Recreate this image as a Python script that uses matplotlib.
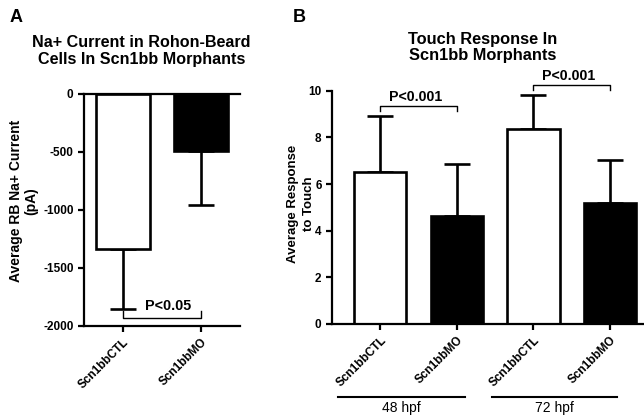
import matplotlib
matplotlib.use("Agg")
import matplotlib.pyplot as plt

plt.rcParams['font.family'] = ['Liberation Sans', 'DejaVu Sans']
plt.rcParams['axes.unicode_minus'] = False

# Panel A data
a_categories = ["Scn1bbCTL", "Scn1bbMO"]
a_means = [-1336, -490]
a_err = [515, 465]
a_colors = ["white", "black"]
a_yticks = [0, -500, -1000, -1500, -2000]

# Panel B data
b_categories = ["Scn1bbCTL", "Scn1bbMO", "Scn1bbCTL", "Scn1bbMO"]
b_means = [6.53, 4.64, 8.36, 5.20]
b_err = [2.40, 2.23, 1.45, 1.81]
b_colors = ["white", "black", "white", "black"]
b_yticks = [0, 2, 4, 6, 8, 10]
b_groups = ["48 hpf", "72 hpf"]

W, H = 644, 416
fig = plt.figure(figsize=(W/100, H/100), dpi=100)

LW = 1.6
bw = 0.68

def style(ax, fs):
    for s in ax.spines.values():
        s.set_linewidth(LW)
    ax.tick_params(width=LW, length=4, labelsize=fs)
    for lab in ax.get_yticklabels():
        lab.set_fontweight('bold')

# ---------- Panel A ----------
axA = fig.add_axes([84/W, 1-326/H, 156/W, (326-94)/H])
xa = list(range(len(a_categories)))
axA.errorbar(xa, a_means, yerr=[a_err, [0]*len(a_err)], fmt='none', ecolor='black',
             elinewidth=LW+0.3, capsize=9.7, capthick=LW+0.3, zorder=1)
axA.bar(xa, a_means, width=bw, color=a_colors, edgecolor='black', linewidth=LW+0.3, zorder=2)
axA.set_xlim(-0.5, 1.5)
axA.set_ylim(-2000, 0)
axA.set_yticks(a_yticks)
axA.set_xticks(xa)
axA.set_xticklabels(a_categories, rotation=45, ha='right', rotation_mode='anchor',
                    fontweight='bold', fontsize=8.5)
axA.spines['right'].set_visible(False)
style(axA, 8.5)
fig.text(23.5/W, 1-201/H, "Average RB Na+ Current\n(pA)", rotation=90, ha='center',
         va='center', multialignment='center', fontsize=10, fontweight='bold', linespacing=1.08)
fig.text(141.5/W, 1-51/H, "Na+ Current in Rohon-Beard\nCells In Scn1bb Morphants",
         ha='center', va='center', multialignment='center', fontsize=11.6,
         fontweight='bold', linespacing=1.12)
# bracket
yb, yt = -1930, -1870
axA.plot([0, 0, 1, 1], [yt, yb, yb, yt], color='black', lw=1.0, clip_on=False, zorder=3)
axA.text(0.58, -1885, "P<0.05", ha='center', va='bottom', fontsize=10.4, fontweight='bold')
fig.text(10/W, 1-18/H, "A", fontsize=13, fontweight='bold', va='center', ha='left')

# ---------- Panel B ----------
axB = fig.add_axes([332/W, 1-324/H, (643-332)/W, (324-90.7)/H])
xb = list(range(len(b_categories)))
axB.errorbar(xb, b_means, yerr=[[0]*len(b_err), b_err], fmt='none', ecolor='black',
             elinewidth=LW+0.3, capsize=9.7, capthick=LW+0.3, zorder=1)
axB.bar(xb, b_means, width=bw, color=b_colors, edgecolor='black', linewidth=LW+0.3, zorder=2)
axB.set_xlim(-0.63, 3.43)
axB.set_ylim(0, 10)
axB.set_yticks(b_yticks)
axB.set_xticks(xb)
axB.set_xticklabels(b_categories, rotation=45, ha='right', rotation_mode='anchor',
                    fontweight='bold', fontsize=8.8)
axB.spines['right'].set_visible(False)
axB.spines['top'].set_visible(False)
style(axB, 8.5)
fig.text(301/W, 1-203.5/H, "Average Response\nto Touch", rotation=90, ha='center',
         va='center', multialignment='center', fontsize=9.5, fontweight='bold', linespacing=1.36)
fig.text(483/W, 1-47.5/H, "Touch Response In\nScn1bb Morphants", ha='center', va='center',
         multialignment='center', fontsize=11.8, fontweight='bold', linespacing=1.12)
# brackets
for (x0, x1), (ylo, yhi) in zip([(0, 1), (2, 3)], [(9.14, 9.36), (10.03, 10.24)]):
    axB.plot([x0, x0, x1, x1], [ylo, yhi, yhi, ylo], color='black', lw=1.0, clip_on=False)
    axB.text((x0 + x1) / 2 - 0.04, yhi + 0.08, "P<0.001", ha='center', va='bottom',
             fontsize=10.2, fontweight='bold')
# group lines
trans = axB.get_xaxis_transform()
for (x0, x1), name in zip([(-0.55, 1.11), (1.46, 3.09)], b_groups):
    axB.plot([x0, x1], [-0.313, -0.313], color='black', lw=1.5, transform=trans, clip_on=False)
    axB.text((x0 + x1) / 2, -0.33, name, transform=trans, ha='center', va='top', fontsize=10)
fig.text(293/W, 1-18/H, "B", fontsize=13, fontweight='bold', va='center', ha='left')

fig.savefig("out.png", dpi=100)
